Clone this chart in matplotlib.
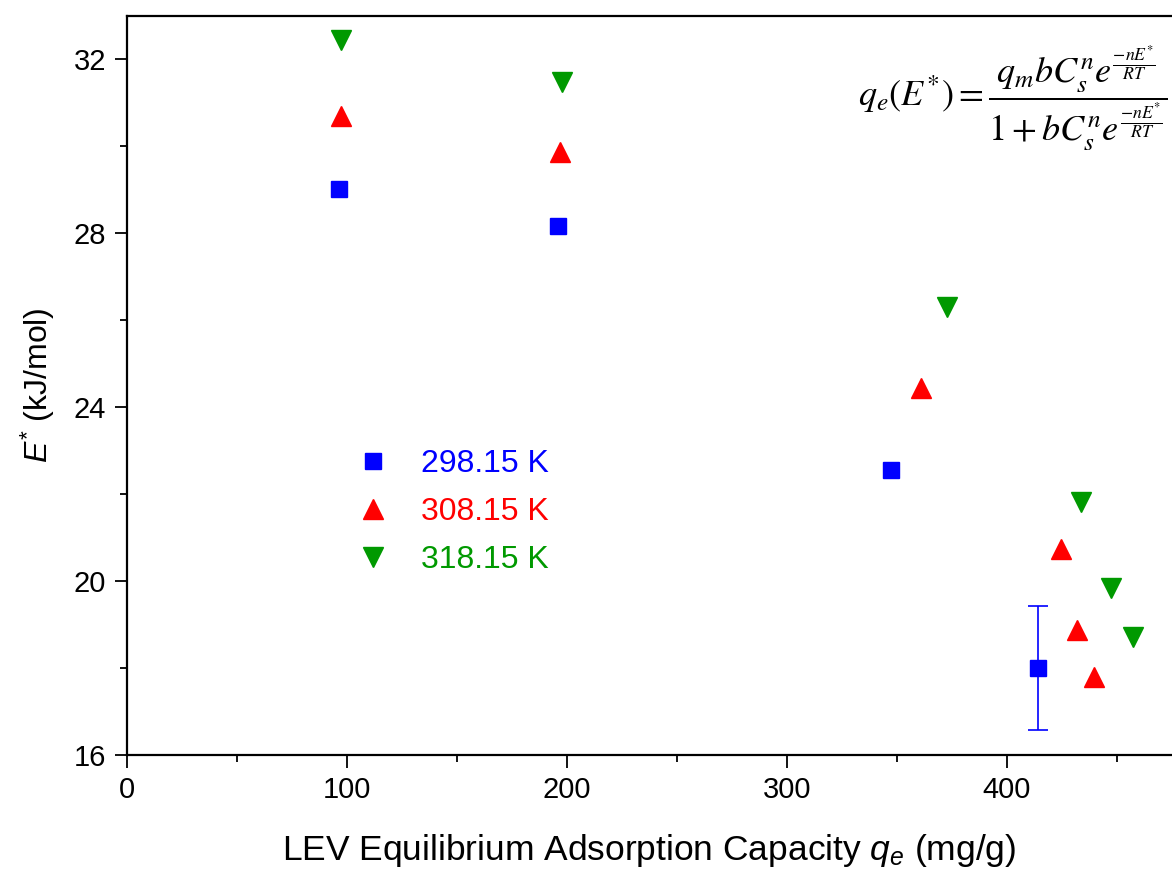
import matplotlib
matplotlib.use("Agg")
import matplotlib.pyplot as plt
from matplotlib.ticker import MultipleLocator

plt.rcParams['font.family'] = ['Liberation Sans', 'DejaVu Sans']
plt.rcParams['mathtext.fontset'] = 'custom'
plt.rcParams['mathtext.rm'] = 'Liberation Sans'
plt.rcParams['mathtext.it'] = 'Liberation Sans:italic'

# Data
x_298 = [96.4, 195.9, 347.3, 414.0]
y_298 = [29.01, 28.16, 22.55, 18.0]
err_298 = [0, 0, 0, 1.42]

x_308 = [97.3, 196.8, 360.9, 424.5, 431.8, 439.5]
y_308 = [30.69, 29.86, 24.44, 20.74, 18.87, 17.79]

x_318 = [97.3, 197.7, 372.7, 433.6, 447.3, 457.3]
y_318 = [32.44, 31.49, 26.30, 21.82, 19.84, 18.71]

labels = ['298.15 K', '308.15 K', '318.15 K']
colors = ['#0000FF', '#FF0000', '#009900']

fig = plt.figure(figsize=(11.72, 8.72), dpi=100)
ax = fig.add_axes([127/1172, 117/872, 1045/1172, 739/872])

ax.plot(x_298, y_298, 's', color=colors[0], ms=11.5, ls='none', label=labels[0])
ax.errorbar([x_298[3]], [y_298[3]], yerr=[err_298[3]], fmt='none', ecolor=colors[0],
            elinewidth=1.2, capsize=7.5, capthick=1.2)
ax.plot(x_308, y_308, '^', color=colors[1], ms=14, ls='none', label=labels[1])
ax.plot(x_318, y_318, 'v', color=colors[2], ms=14, ls='none', label=labels[2])

ax.set_xlim(0, 475)
ax.set_ylim(16, 33.0)
ax.xaxis.set_major_locator(MultipleLocator(100))
ax.xaxis.set_minor_locator(MultipleLocator(50))
ax.yaxis.set_major_locator(MultipleLocator(4))
ax.yaxis.set_minor_locator(MultipleLocator(2))
ax.tick_params(which='major', direction='out', length=9, width=1.3, labelsize=21, pad=6)
ax.tick_params(which='minor', direction='out', length=5, width=1.3)
ax.tick_params(which='both', top=False, right=False)
ax.spines['right'].set_visible(False)
for s in ['left', 'bottom', 'top']:
    ax.spines[s].set_linewidth(1.6)

ax.set_xlabel(r'LEV Equilibrium Adsorption Capacity $q_e$ (mg/g)', fontsize=25.5, labelpad=20)
ax.set_ylabel(r'$E^{*}$ (kJ/mol)', fontsize=23, labelpad=12)

leg = ax.legend(loc='center left', bbox_to_anchor=(0.185, 0.329), frameon=False,
                fontsize=23, labelcolor='linecolor', handlelength=1.5,
                handletextpad=0.75, labelspacing=0.56, numpoints=1)

fig.text(858/1172, 1 - 98/872,
         r'$q_e(E^{*})=\dfrac{q_m b C_s^n e^{\frac{-nE^{*}}{RT}}}{1+bC_s^n e^{\frac{-nE^{*}}{RT}}}$',
         fontsize=26, math_fontfamily='stix', ha='left', va='center')

fig.savefig('out.png', dpi=100)
